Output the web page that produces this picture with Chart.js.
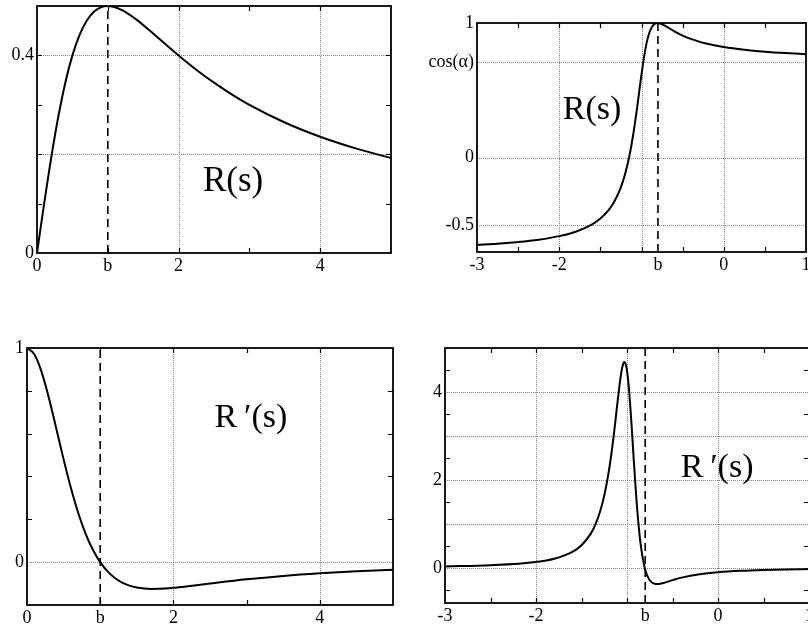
<!DOCTYPE html>
<html>
<head>
<meta charset="utf-8">
<script src="https://cdn.jsdelivr.net/npm/chart.js@4/dist/chart.umd.min.js"></script>
<style>
  html, body { margin: 0; padding: 0; width: 808px; height: 630px; overflow: hidden; background: #fff; }
  canvas { position: absolute; }
</style>
</head>
<body>
<canvas id="c1" width="404" height="290" style="left:0;top:0"></canvas>
<canvas id="c2" width="410" height="290" style="left:404px;top:0"></canvas>
<canvas id="c3" width="404" height="330" style="left:0;top:300px"></canvas>
<canvas id="c4" width="420" height="330" style="left:404px;top:300px"></canvas>
<script>
"use strict";

// ---- data ----

// top left: R(s)
const s1 = [0, 0.05, 0.1, 0.15, 0.2, 0.3, 0.4, 0.5, 0.6, 0.7, 0.8, 0.9, 1.0, 1.2, 1.4, 1.6, 1.8, 2.0, 2.25, 2.5, 2.75, 3.0, 3.5, 4.0, 4.5, 5.0];
const r1 = [0, 0.0499, 0.0990, 0.1467, 0.1923, 0.2752, 0.3448, 0.4000, 0.4412, 0.4698, 0.4878, 0.4972, 0.5000, 0.4918, 0.4730, 0.4494, 0.4245, 0.4000, 0.3711, 0.3448, 0.3212, 0.3000, 0.2642, 0.2353, 0.2118, 0.1923];

// top right: R(s)
const s2 = [-3, -2.75, -2.5, -2.25, -2, -1.8, -1.6, -1.5, -1.4, -1.35, -1.3, -1.25, -1.2, -1.15, -1.1, -1.05, -1, -0.95, -0.9, -0.85, -0.825, -0.8, -0.775, -0.75, -0.7, -0.6, -0.5, -0.4, -0.3, -0.2, 0, 0.25, 0.5, 0.75, 1];
const r2 = [-0.6473, -0.6381, -0.6258, -0.6085, -0.5822, -0.5493, -0.4946, -0.4514, -0.3883, -0.3449, -0.2897, -0.2179, -0.1228, 0.0047, 0.1740, 0.3865, 0.6180, 0.8152, 0.9372, 0.9895, 0.9983, 0.9999, 0.9968, 0.9907, 0.9742, 0.9380, 0.9067, 0.8817, 0.8617, 0.8456, 0.8216, 0.8012, 0.7870, 0.7765, 0.7686];

// bottom left: R'(s)
const s3 = [0, 0.1, 0.2, 0.3, 0.4, 0.5, 0.6, 0.7, 0.8, 0.9, 1.0, 1.1, 1.2, 1.3, 1.4, 1.5, 1.6, 1.7, 1.8, 2.0, 2.2, 2.5, 3.0, 3.5, 4.0, 4.5, 5.0];
const d3 = [1, 0.9705, 0.8876, 0.7659, 0.6243, 0.4800, 0.3460, 0.2297, 0.1338, 0.0580, 0, -0.0430, -0.0739, -0.0954, -0.1096, -0.1183, -0.1231, -0.1249, -0.1246, -0.1200, -0.1126, -0.0999, -0.0800, -0.0641, -0.0519, -0.0426, -0.0355];

// bottom right: R'(s)
const s4 = [-3, -2.5, -2, -1.8, -1.6, -1.5, -1.4, -1.35, -1.3, -1.25, -1.2, -1.15, -1.1, -1.07, -1.05, -1.03, -1.01, -1.0, -0.98, -0.95, -0.925, -0.9, -0.875, -0.85, -0.8, -0.75, -0.7, -0.65, -0.6, -0.5, -0.4, -0.2, 0, 0.25, 0.5, 0.75, 1];
const d4 = [0.0321, 0.0577, 0.1314, 0.2058, 0.3629, 0.5140, 0.7727, 0.9733, 1.2512, 1.6421, 2.1920, 2.9406, 3.8429, 4.3440, 4.5815, 4.6815, 4.6010, 4.4850, 4.1040, 3.2503, 2.4318, 1.6610, 1.0205, 0.5340, -0.0437, -0.2840, -0.3607, -0.3664, -0.3441, -0.2803, -0.2229, -0.1447, -0.0996, -0.0671, -0.0481, -0.0361, -0.0280];

// position of b on each s axis
const bLeft = 1;
const bRight = -0.8;
const cosAlpha = 0.71;

// tick labels
const x1Ticks = [0, bLeft, 2, 4];
const x1Labels = ['0', 'b', '2', '4'];
const y1Ticks = [0, 0.4];
const y1Labels = ['0', '0.4'];

const x2Ticks = [-3, -2, bRight, 0, 1];
const x2Labels = ['-3', '-2', 'b', '0', '1'];
const y2Ticks = [-0.5, 0, cosAlpha, 1];
const y2Labels = ['-0.5', '0', 'cos(\u03b1)', '1'];

const x3Ticks = [0, bLeft, 2, 4];
const x3Labels = ['0', 'b', '2', '4'];
const y3Ticks = [0, 1];
const y3Labels = ['0', '1'];

const x4Ticks = [-3, -2, bRight, 0, 1];
const x4Labels = ['-3', '-2', 'b', '0', '1'];
const y4Ticks = [0, 2, 4];
const y4Labels = ['0', '2', '4'];

const FONT = '"Liberation Serif", "DejaVu Serif", serif';

// dotted grid, boxed frame with inward ticks and the curve name
const framePlugin = {
    id: 'frame',
    beforeDatasetsDraw: function (chart, args, opts) {
        const ctx = chart.ctx;
        const a = chart.chartArea;
        const x = chart.scales.x;
        const y = chart.scales.y;
        ctx.save();
        ctx.strokeStyle = '#808080';
        ctx.lineWidth = 1;
        ctx.setLineDash([1, 1]);
        ctx.beginPath();
        opts.gridX.forEach(function (v) {
            const px = Math.round(x.getPixelForValue(v)) + 0.5;
            ctx.moveTo(px, a.top);
            ctx.lineTo(px, a.bottom);
        });
        opts.gridY.forEach(function (v) {
            const py = Math.round(y.getPixelForValue(v)) + 0.5;
            ctx.moveTo(a.left, py);
            ctx.lineTo(a.right, py);
        });
        ctx.stroke();
        ctx.restore();
    },
    afterDatasetsDraw: function (chart, args, opts) {
        const ctx = chart.ctx;
        const a = chart.chartArea;
        const x = chart.scales.x;
        const y = chart.scales.y;
        const len = 5;
        ctx.save();
        ctx.strokeStyle = '#000';
        ctx.lineWidth = 1.2;
        ctx.beginPath();
        opts.marksX.forEach(function (v) {
            const px = Math.round(x.getPixelForValue(v)) + 0.5;
            ctx.moveTo(px, a.top);
            ctx.lineTo(px, a.top + len);
            ctx.moveTo(px, a.bottom);
            ctx.lineTo(px, a.bottom - len);
        });
        opts.marksY.forEach(function (v) {
            const py = Math.round(y.getPixelForValue(v)) + 0.5;
            ctx.moveTo(a.left, py);
            ctx.lineTo(a.left + len, py);
            ctx.moveTo(a.right, py);
            ctx.lineTo(a.right - len, py);
        });
        ctx.stroke();
        ctx.lineWidth = 1.8;
        ctx.strokeRect(a.left, a.top, a.right - a.left, a.bottom - a.top);

        ctx.fillStyle = '#000';
        ctx.font = opts.textSize + 'px ' + FONT;
        ctx.textAlign = 'center';
        ctx.textBaseline = 'middle';
        ctx.fillText(opts.text, x.getPixelForValue(opts.textAt[0]), y.getPixelForValue(opts.textAt[1]));
        ctx.restore();
    },
};

function labelFor(ticks, labels) {
    return function (value) {
        const i = ticks.findIndex((t) => Math.abs(t - value) < 1e-9);
        return i < 0 ? '' : labels[i];
    };
}

function makePanel(id, p) {
    const points = p.s.map((s, i) => ({x: s, y: p.v[i]}));
    new Chart(document.getElementById(id), {
        type: 'scatter',
        data: {
            datasets: [{
                data: points,
                showLine: true,
                borderColor: '#000',
                borderWidth: 2,
                pointRadius: 0,
                cubicInterpolationMode: 'monotone',
            }, {
                // dashed marker at s = b
                data: [{x: p.b, y: p.yMin}, {x: p.b, y: p.yMax}],
                showLine: true,
                borderColor: '#000',
                borderWidth: 1.6,
                borderDash: [8, 5],
                pointRadius: 0,
            }],
        },
        options: {
            responsive: false,
            animation: false,
            events: [],
            layout: {padding: {left: 0, top: p.pad[0], right: p.pad[1], bottom: 0}},
            plugins: {
                legend: {display: false},
                tooltip: {enabled: false},
                frame: p.frame,
            },
            scales: {
                x: {
                    type: 'linear',
                    min: p.xMin,
                    max: p.xMax,
                    afterBuildTicks: (ax) => { ax.ticks = p.xTicks.map((v) => ({value: v})); },
                    afterFit: (ax) => {
                        ax.height = p.axisSize[1];
                        ax.paddingLeft = ax.paddingRight = ax.paddingTop = ax.paddingBottom = 0;
                    },
                    grid: {display: false, drawTicks: false},
                    border: {display: false},
                    ticks: {
                        autoSkip: false, maxRotation: 0, padding: 2, color: '#000',
                        font: {family: FONT, size: 18},
                        callback: labelFor(p.xTicks, p.xLabels),
                    },
                },
                y: {
                    type: 'linear',
                    min: p.yMin,
                    max: p.yMax,
                    afterBuildTicks: (ax) => { ax.ticks = p.yTicks.map((v) => ({value: v})); },
                    afterFit: (ax) => {
                        ax.width = p.axisSize[0];
                        ax.paddingLeft = ax.paddingRight = ax.paddingTop = ax.paddingBottom = 0;
                    },
                    grid: {display: false, drawTicks: false},
                    border: {display: false},
                    ticks: {
                        autoSkip: false, padding: 3, color: '#000',
                        font: {family: FONT, size: 18},
                        callback: labelFor(p.yTicks, p.yLabels),
                    },
                },
            },
        },
        plugins: [framePlugin],
    });
}

makePanel('c1', {
    s: s1, v: r1, b: bLeft,
    xMin: 0, xMax: 5, yMin: 0, yMax: 0.5,
    xTicks: x1Ticks, xLabels: x1Labels, yTicks: y1Ticks, yLabels: y1Labels,
    pad: [6, 13], axisSize: [37, 37],
    frame: {
        gridX: [2, 4], gridY: [0.2, 0.4],
        marksX: [1, 2, 3, 4], marksY: [0.1, 0.2, 0.3, 0.4],
        text: 'R(s)', textSize: 35, textAt: [2.77, 0.144],
    },
});

makePanel('c2', {
    s: s2, v: r2, b: bRight,
    xMin: -3, xMax: 1, yMin: -0.7, yMax: 1,
    xTicks: x2Ticks, xLabels: x2Labels, yTicks: y2Ticks, yLabels: y2Labels,
    pad: [23, 8], axisSize: [73, 38],
    frame: {
        gridX: [-2, -1, 0], gridY: [-0.5, 0, cosAlpha],
        marksX: [-2.5, -2, -1.5, -1, -0.5, 0, 0.5], marksY: [],
        text: 'R(s)', textSize: 34, textAt: [-1.6, 0.355],
    },
});

makePanel('c3', {
    s: s3, v: d3, b: bLeft,
    xMin: 0, xMax: 5, yMin: -0.2, yMax: 1,
    xTicks: x3Ticks, xLabels: x3Labels, yTicks: y3Ticks, yLabels: y3Labels,
    pad: [48, 11], axisSize: [27, 25],
    frame: {
        gridX: [2, 4], gridY: [0],
        marksX: [1, 2, 3, 4], marksY: [0.2, 0.4, 0.6, 0.8],
        text: 'R\u2009\u2032(s)', textSize: 34, textAt: [3.06, 0.673],
    },
});

makePanel('c4', {
    s: s4, v: d4, b: bRight,
    xMin: -3, xMax: 1, yMin: -0.8, yMax: 5,
    xTicks: x4Ticks, xLabels: x4Labels, yTicks: y4Ticks, yLabels: y4Labels,
    pad: [48, 15], axisSize: [41, 27],
    frame: {
        gridX: [-2, -1, 0], gridY: [0, 1, 2, 3, 4],
        marksX: [-2.5, -2, -1.5, -1, -0.5, 0, 0.5], marksY: [-0.5, 0.5, 1.5, 2.5, 3.5, 4.5],
        text: 'R\u2009\u2032(s)', textSize: 34, textAt: [-0.01, 2.27],
    },
});
</script>
</body>
</html>
